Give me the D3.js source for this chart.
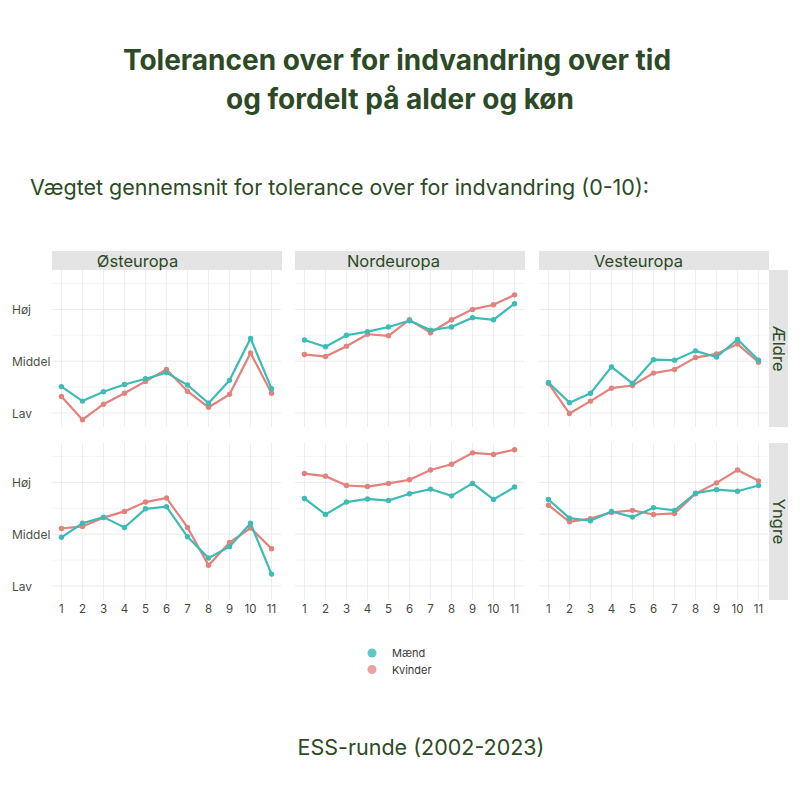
<!DOCTYPE html>
<html>
<head>
<meta charset="utf-8">
<script src="https://cdn.jsdelivr.net/npm/d3@7"></script>
<style>
  body { margin: 0; background: #fff; }
  svg { display: block; }
</style>
</head>
<body>
<svg id="chart" width="800" height="800"></svg>
<script>
// ESS rounds 1..11
var rounds = [1, 2, 3, 4, 5, 6, 7, 8, 9, 10, 11];
var regions = ["Østeuropa", "Nordeuropa", "Vesteuropa"];
var ages = ["Ældre", "Yngre"];
var genders = ["Mænd", "Kvinder"];
var levelLabels = ["Lav", "Middel", "Høj"];
var levelValues = [4, 5, 6];

// values (Lav=4, Middel=5, Høj=6)
var ostAeldreM  = [4.51, 4.23, 4.41, 4.55, 4.66, 4.78, 4.54, 4.19, 4.63, 5.44, 4.47];
var ostAeldreK  = [4.32, 3.87, 4.17, 4.38, 4.61, 4.84, 4.42, 4.11, 4.36, 5.16, 4.38];
var ostYngreM   = [4.94, 5.21, 5.33, 5.13, 5.49, 5.53, 4.95, 4.54, 4.76, 5.21, 4.23];
var ostYngreK   = [5.11, 5.15, 5.32, 5.44, 5.62, 5.70, 5.13, 4.40, 4.84, 5.12, 4.72];
var nordAeldreM = [5.41, 5.28, 5.50, 5.57, 5.66, 5.78, 5.60, 5.66, 5.84, 5.80, 6.11];
var nordAeldreK = [5.13, 5.09, 5.29, 5.52, 5.49, 5.80, 5.55, 5.80, 6.00, 6.09, 6.28];
var nordYngreM  = [5.69, 5.38, 5.62, 5.68, 5.65, 5.78, 5.87, 5.74, 5.98, 5.67, 5.91];
var nordYngreK  = [6.17, 6.12, 5.94, 5.92, 5.98, 6.05, 6.24, 6.35, 6.57, 6.54, 6.63];
var vestAeldreM = [4.59, 4.20, 4.38, 4.89, 4.57, 5.03, 5.02, 5.20, 5.08, 5.42, 5.02];
var vestAeldreK = [4.57, 3.99, 4.23, 4.48, 4.53, 4.77, 4.84, 5.07, 5.14, 5.33, 4.98];
var vestYngreM  = [5.67, 5.31, 5.26, 5.44, 5.33, 5.51, 5.46, 5.79, 5.86, 5.83, 5.94];
var vestYngreK  = [5.56, 5.24, 5.30, 5.42, 5.46, 5.38, 5.40, 5.78, 5.99, 6.24, 6.03];

var panelData = [
  [[ostAeldreM, ostAeldreK], [ostYngreM, ostYngreK]],
  [[nordAeldreM, nordAeldreK], [nordYngreM, nordYngreK]],
  [[vestAeldreM, vestAeldreK], [vestYngreM, vestYngreK]]
];

var colors = ["#3dbbb4", "#e3817c"];
var legendColors = ["#5ec8c4", "#e9a3a1"];
var green = "#2c4a25";
var font = "Inter, 'Noto Sans', sans-serif";

var svg = d3.select("#chart");

// titles
svg.append("text")
  .attr("x", 397).attr("y", 70)
  .attr("text-anchor", "middle")
  .style("font-family", font).style("font-weight", 700)
  .style("font-size", "28px").style("fill", green)
  .text("Tolerancen over for indvandring over tid");
svg.append("text")
  .attr("x", 400).attr("y", 109)
  .attr("text-anchor", "middle")
  .style("font-family", font).style("font-weight", 700)
  .style("font-size", "28px").style("fill", green)
  .text("og fordelt på alder og køn");
svg.append("text")
  .attr("x", 30).attr("y", 195)
  .style("font-family", font)
  .style("font-size", "21.5px").style("fill", green)
  .text("Vægtet gennemsnit for tolerance over for indvandring (0-10):");

// facet geometry
var panelW = 229, panelH = 157;
var colX = [52, 295, 539];
var rowY = [270, 443];
var stripShift = [-29, -16, -15]; // strip labels sit left of centre in the original

var x = d3.scaleLinear().domain([0.55, 11.45]).range([0, panelW]);
var y = d3.scaleLinear().domain([3.73, 6.76]).range([panelH, 0]);

var line = d3.line()
  .x(function(d, i){ return x(rounds[i]); })
  .y(function(d){ return y(d); });

regions.forEach(function(region, c){
  // top strip
  svg.append("rect")
    .attr("x", colX[c]).attr("y", 251)
    .attr("width", panelW + 1).attr("height", 19)
    .attr("fill", "#e4e4e4");
  svg.append("text")
    .attr("x", colX[c] + panelW / 2 + stripShift[c]).attr("y", 267)
    .attr("text-anchor", "middle")
    .style("font-family", font).style("font-size", "16.5px")
    .style("fill", green)
    .text(region);

  ages.forEach(function(age, r){
    var g = svg.append("g")
      .attr("transform", "translate(" + colX[c] + "," + rowY[r] + ")");

    // grid
    g.selectAll(".minor")
      .data([4.5, 5.5, 6.5])
      .enter().append("line")
      .attr("x1", 0).attr("x2", panelW)
      .attr("y1", function(d){ return y(d); })
      .attr("y2", function(d){ return y(d); })
      .attr("stroke", "#f5f5f5").attr("stroke-width", 1);
    g.selectAll(".vgrid")
      .data(rounds)
      .enter().append("line")
      .attr("x1", function(d){ return x(d); })
      .attr("x2", function(d){ return x(d); })
      .attr("y1", 0).attr("y2", panelH)
      .attr("stroke", "#eeeeee").attr("stroke-width", 1);
    g.selectAll(".hgrid")
      .data(levelValues)
      .enter().append("line")
      .attr("x1", 0).attr("x2", panelW)
      .attr("y1", function(d){ return y(d); })
      .attr("y2", function(d){ return y(d); })
      .attr("stroke", "#ebebeb").attr("stroke-width", 1);

    // series: Kvinder underneath, Mænd on top
    [1, 0].forEach(function(s){
      var vals = panelData[c][r][s];
      g.append("path")
        .datum(vals)
        .attr("d", line)
        .attr("fill", "none")
        .attr("stroke", colors[s])
        .attr("stroke-width", 2.2);
      g.selectAll(".pt" + s)
        .data(vals)
        .enter().append("circle")
        .attr("cx", function(d, i){ return x(rounds[i]); })
        .attr("cy", function(d){ return y(d); })
        .attr("r", 2.7)
        .attr("fill", colors[s]);
    });

    // y labels on left column
    if (c === 0) {
      levelValues.forEach(function(v, k){
        svg.append("text")
          .attr("x", 12).attr("y", rowY[r] + y(v) + 4.5)
          .style("font-family", font).style("font-size", "12px")
          .style("fill", "#4a5245")
          .text(levelLabels[k]);
      });
    }

    // x ticks on bottom row
    if (r === 1) {
      g.selectAll(".xt")
        .data(rounds)
        .enter().append("text")
        .attr("x", function(d){ return x(d); })
        .attr("y", panelH + 13)
        .attr("text-anchor", "middle")
        .style("font-family", font).style("font-size", "11.5px")
        .style("fill", "#3e4a3a")
        .text(function(d){ return d; });
    }

    // right strip
    if (c === 2) {
      svg.append("rect")
        .attr("x", 769).attr("y", rowY[r])
        .attr("width", 19).attr("height", panelH)
        .attr("fill", "#e4e4e4");
      svg.append("text")
        .attr("transform", "translate(773," + (rowY[r] + panelH / 2) + ") rotate(90)")
        .attr("text-anchor", "middle")
        .style("font-family", font).style("font-size", "16.5px")
        .style("fill", green)
        .text(age);
    }
  });
});

// legend
var legend = svg.append("g").attr("transform", "translate(372,653)");
genders.forEach(function(gname, i){
  legend.append("circle")
    .attr("cx", 0).attr("cy", i * 16.5)
    .attr("r", 4.5)
    .attr("fill", legendColors[i]);
  legend.append("text")
    .attr("x", 20).attr("y", i * 16.5 + 4)
    .style("font-family", font).style("font-size", "11px")
    .style("fill", "#3a3a3a")
    .text(gname);
});

// x axis title
svg.append("text")
  .attr("x", 421).attr("y", 755)
  .attr("text-anchor", "middle")
  .style("font-family", font)
  .style("font-size", "21.5px").style("fill", green)
  .text("ESS-runde (2002-2023)");
</script>
</body>
</html>
